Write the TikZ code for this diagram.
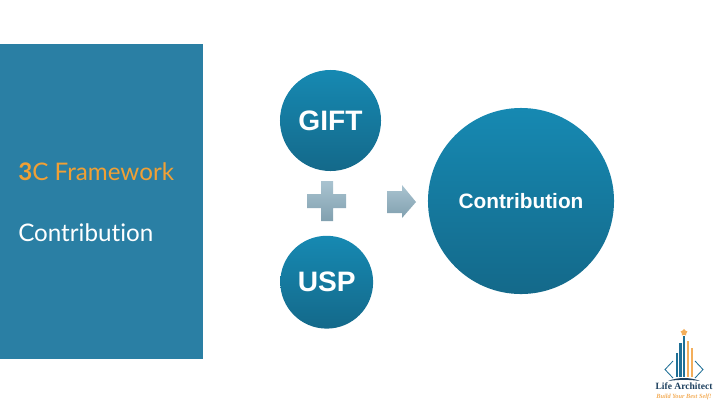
\documentclass[tikz,border=0pt]{standalone}
\usepackage{fontspec}
\setmainfont{Liberation Sans}
\newfontfamily\panelfont[Ligatures=NoCommon]{Lato}
\newfontfamily\logofont{Liberation Serif}
\usetikzlibrary{shapes.arrows,shapes.geometric}
\definecolor{panelblue}{HTML}{2A7FA4}
\definecolor{orangetxt}{HTML}{F0A035}
\definecolor{circtop}{HTML}{1689B2}
\definecolor{circbot}{HTML}{14698A}
\definecolor{greytop}{HTML}{A9C3D0}
\definecolor{greybot}{HTML}{81A0AF}
\definecolor{logoblue}{HTML}{1F6F96}
\definecolor{logonavy}{HTML}{1C3F5E}
\definecolor{logoorange}{HTML}{F3AE5B}
\tikzset{
  bigcircle/.style={circle,draw=none,top color=circtop,bottom color=circbot,text=white,font=\bfseries,inner sep=0pt},
  greyshade/.style={top color=greytop,bottom color=greybot,draw=none},
  paneltext/.style={anchor=west,inner sep=0pt,font=\panelfont\fontsize{17.2}{19}\selectfont},
}
\begin{document}
\begin{tikzpicture}[x=0.025cm,y=-0.025cm]
\useasboundingbox (0,0) rectangle (720,403);

% Left panel
\fill[panelblue] (0,44) rectangle (203,359);
\node[paneltext,text=orangetxt] (title) at (18,171.5) {{\bfseries 3}C Framework};
\node[paneltext,text=white] (sub) at (18,232.5) {Contribution};

% Circles
\node[bigcircle,minimum size=2.525cm] (gift) at (330.5,120.5) {\fontsize{20}{22}\selectfont GIFT};
\node[bigcircle,minimum size=2.32cm] (usp) at (326.7,282.2) {\fontsize{20}{22}\selectfont USP};
\node[bigcircle,minimum size=4.65cm] (contrib) at (521,201) {\fontsize{14.8}{17}\selectfont Contribution};

% Plus and arrow
\path[greyshade] (321,181) -- (333,181) -- (333,194) -- (346,194) -- (346,208) -- (333,208)
  -- (333,221) -- (321,221) -- (321,208) -- (307,208) -- (307,194) -- (321,194) -- cycle;
\path[greyshade] (387,191) -- (402,191) -- (402,185) -- (416,202) -- (402,218) -- (402,213) -- (387,213) -- cycle;

% Logo
\foreach \xa/\xb/\ytop/\col in {675.5/678/353/logoblue,679.3/681.8/343/logoblue,682.8/685.2/336/logoblue,
  686.5/689.2/341/logoorange,690.5/693.3/348/logoorange} {
  \fill[\col] (\xa,\ytop) rectangle (\xb,377);
}
\node[star,star points=5,fill=logoorange,inner sep=0pt,minimum size=0.18cm] (logostar) at (684,332.5) {};
\draw[logoblue,line width=0.6pt] (673,361) -- (665,369.5) -- (673,378);
\draw[logoblue,line width=0.6pt] (695,361) -- (703,369.5) -- (695,378);
\fill[logonavy] (668,381) .. controls (678,377) and (690,377) .. (700,381) .. controls (690,379.5) and (678,379.5) .. (668,381);
\node[inner sep=0pt,text=logonavy,font=\logofont\bfseries\fontsize{6.8}{8}\selectfont] (logoname) at (684,386.5) {Life Architect};
\node[inner sep=0pt,text=logoorange,font=\logofont\itshape\bfseries\fontsize{4.5}{6}\selectfont] (logotag) at (684,396.5) {Build Your Best Self!};
\end{tikzpicture}
\end{document}
